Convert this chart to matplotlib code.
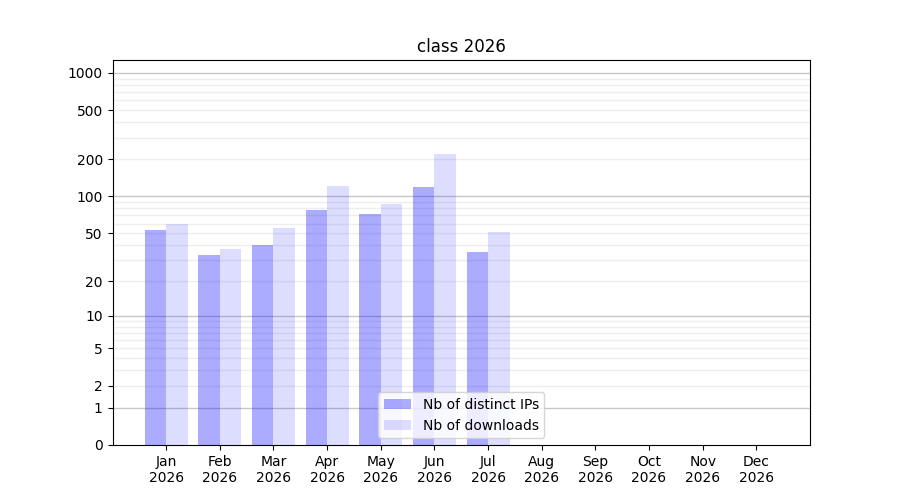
import numpy as np
import matplotlib
matplotlib.use("Agg")
import matplotlib.pyplot as plt

months = ["Jan", "Feb", "Mar", "Apr", "May", "Jun", "Jul", "Aug", "Sep", "Oct", "Nov", "Dec"]
year = "2026"
ips = [53, 33, 40, 77, 72, 119, 35, 0, 0, 0, 0, 0]
downloads = [60, 37, 55, 121, 87, 220, 51, 0, 0, 0, 0, 0]
ytick_vals = [0, 1, 2, 5, 10, 20, 50, 100, 200, 500, 1000]
major_grid = [1, 10, 100, 1000]
minor_grid = [m * d for d in (1, 10, 100) for m in range(2, 10)]

fig, ax = plt.subplots(figsize=(9, 5), dpi=100)
ax.set_yscale("function", functions=(lambda y: np.log10(1 + np.clip(y, 0, None)),
                                     lambda y: 10 ** y - 1))
x = np.arange(len(months))
w = 0.4
ax.bar(x - w / 2, ips, width=w, color="blue", alpha=0.33, label="Nb of distinct IPs", zorder=2)
ax.bar(x + w / 2, downloads, width=w, color="blue", alpha=0.135, label="Nb of downloads", zorder=2)

for v in minor_grid:
    ax.axhline(v, color="#eeeeee", lw=1, zorder=1)
for v in major_grid:
    ax.axhline(v, color="#c8c8c8", lw=1, zorder=1)

ax.set_ylim(0, 1270)
ax.set_xlim(-1, 12)
ax.set_yticks(ytick_vals)
ax.set_yticklabels([str(v) for v in ytick_vals])
ax.yaxis.set_minor_locator(matplotlib.ticker.NullLocator())
ax.set_xticks(x)
ax.set_xticklabels([f"{m}\n{year}" for m in months])
ax.set_title("class 2026")
ax.legend(loc="lower center")
fig.savefig("out.png")
